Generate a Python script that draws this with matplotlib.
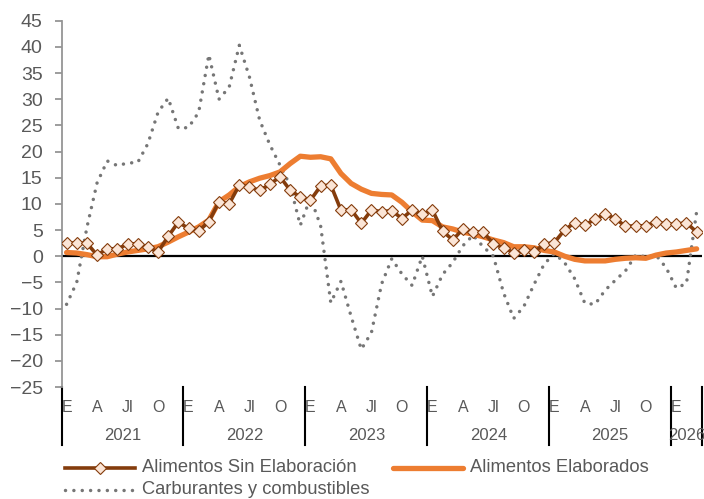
import matplotlib
matplotlib.use("Agg")
import matplotlib.pyplot as plt
from matplotlib.lines import Line2D
import numpy as np

plt.rcParams['font.family'] = ['Liberation Sans', 'DejaVu Sans']

years = ['2021', '2022', '2023', '2024', '2025', '2026']
month_labels = ['E', '', '', 'A', '', '', 'Jl', '', '', 'O', '', '']
n_months = 63  # Jan 2021 .. Mar 2026

sin_elab = [2.5, 2.5, 2.5, 0.2, 1.4, 1.4, 2.3, 2.4, 1.7, 0.8, 3.8, 6.5,
            5.3, 4.8, 6.6, 10.4, 10.0, 13.6, 13.2, 12.6, 13.7, 15.2, 12.6, 11.3,
            10.7, 13.4, 13.6, 8.8, 8.9, 6.3, 8.8, 8.5, 8.7, 7.2, 8.8, 8.0,
            8.8, 4.8, 3.1, 5.2, 4.6, 4.6, 2.4, 1.6, 0.7, 1.1, 0.8, 2.3,
            2.6, 5.0, 6.4, 5.9, 7.1, 8.0, 7.2, 5.7, 5.8, 5.8, 6.6, 6.1,
            6.1, 6.4, 4.6]
elab = [0.7, 0.6, 0.3, -0.1, -0.1, 0.4, 0.8, 1.1, 1.4, 1.8, 2.7, 3.7,
        4.6, 5.6, 6.9, 10.4, 11.7, 13.3, 14.2, 14.9, 15.4, 16.1, 17.7, 19.1,
        18.9, 19.0, 18.6, 15.8, 13.9, 12.8, 12.0, 11.8, 11.7, 10.3, 8.5, 6.9,
        6.8, 5.6, 5.2, 4.6, 4.2, 3.7, 3.1, 2.6, 1.8, 1.8, 1.6, 1.1,
        0.8, 0.0, -0.6, -0.9, -0.9, -0.9, -0.6, -0.4, -0.3, -0.4, 0.2, 0.6,
        0.8, 1.1, 1.4]
carb = [-9.2, -5.0, 5.5, 14.0, 18.2, 17.3, 17.8, 17.9, 21.5, 27.5, 30.2, 24.4,
        24.6, 27.5, 38.5, 30.0, 32.3, 40.3, 34.2, 26.0, 21.3, 17.4, 13.5, 5.9,
        11.2, 5.8, -8.9, -4.8, -11.5, -17.8, -14.6, -5.3, -0.5, -3.4, -5.6, 0.0,
        -7.7, -3.5, -1.2, 2.0, 4.0, 1.8, 0.0, -7.0, -11.9, -9.6, -5.4, -1.5,
        0.5, -1.2, -4.3, -9.0, -9.2, -6.5, -4.6, -2.8, 0.2, -0.1, 0.2, -2.2,
        -6.1, -5.2, 8.5]

labels = ['Alimentos Sin Elaboración', 'Alimentos Elaborados', 'Carburantes y combustibles']

C_SIN = '#843C0C'
C_SIN_FACE = '#FBE5D6'
C_ELAB = '#ED7D31'
C_CARB = '#767676'
C_TEXT = '#595959'
C_AXIS = '#959595'

W, H = 704, 499
fig = plt.figure(figsize=(W / 100, H / 100), dpi=100)
ax_l, ax_r, ax_t, ax_b = 61.5, 701.7, 20.7, 387.0
ax = fig.add_axes([ax_l / W, 1 - ax_b / H, (ax_r - ax_l) / W, (ax_b - ax_t) / H])

x = np.arange(n_months)
carb_style = dict(color=C_CARB, lw=2.5, linestyle=(0, (0.01, 2.4)), dash_capstyle='round')
sin_style = dict(color=C_SIN, lw=2.6, marker='D', ms=6.0, mfc=C_SIN_FACE, mec=C_SIN, mew=0.8)
elab_style = dict(color=C_ELAB, lw=3.8, solid_capstyle='round')

ax.plot(x, carb, zorder=2, **carb_style)
ax.plot(x, elab, zorder=3, **elab_style)
ax.plot(x, sin_elab, zorder=4, **sin_style)
ax.axhline(0, color='black', lw=1.6, zorder=1)

ax.set_xlim(-0.5, n_months - 0.5)
ax.set_ylim(-25, 45)
ax.set_yticks(np.arange(-25, 46, 5))
ax.tick_params(axis='y', colors=C_AXIS, length=5, width=1.3, pad=8.5,
               labelsize=14, labelcolor=C_TEXT)
ax.set_xticks([])
for s in ['top', 'right', 'bottom']:
    ax.spines[s].set_visible(False)
ax.spines['left'].set_color(C_AXIS)
ax.spines['left'].set_linewidth(1.3)

# category axis: months and years
ah = ax_b - ax_t
def yfrac(py):
    return (ax_b - py) / ah
tr = ax.get_xaxis_transform()
for i in range(n_months):
    lab = month_labels[i % 12]
    if lab:
        ax.text(i, yfrac(407.5), lab, transform=tr, ha='center', va='center',
                fontsize=11.5, color=C_TEXT, clip_on=False)
bounds = list(range(0, n_months, 12)) + [n_months]
for k, y in enumerate(years):
    b0 = bounds[k] - 0.5
    b1 = bounds[k + 1] - 0.5
    ax.text((b0 + b1) / 2, yfrac(435.5), y, transform=tr, ha='center', va='center',
            fontsize=12, color=C_TEXT, clip_on=False)
for b in bounds:
    ax.plot([b - 0.5, b - 0.5], [0, yfrac(445)], transform=tr, color='black',
            lw=1.5, clip_on=False)

# legend
def fx(px):
    return px / W
def fy(py):
    return 1 - py / H
entries = [(65, 135, 468, labels[0], sin_style),
           (393, 463, 468, labels[1], elab_style),
           (65, 135, 490, labels[2], carb_style)]
for x0, x1, yy, lab, st in entries:
    st2 = dict(st)
    if 'marker' in st2:
        fig.add_artist(Line2D([fx(x0), fx(x1)], [fy(yy), fy(yy)], color=st2['color'], lw=st2['lw']))
        fig.add_artist(Line2D([fx((x0 + x1) / 2)], [fy(yy)], linestyle='none', marker='D',
                              ms=st2['ms'], mfc=st2['mfc'], mec=st2['mec'], mew=st2['mew']))
    else:
        fig.add_artist(Line2D([fx(x0), fx(x1)], [fy(yy), fy(yy)], **st2))
    fig.text(fx(x1 + 7), fy(yy), lab, ha='left', va='center', fontsize=13.2, color=C_TEXT)

fig.savefig('out.png', dpi=100)
